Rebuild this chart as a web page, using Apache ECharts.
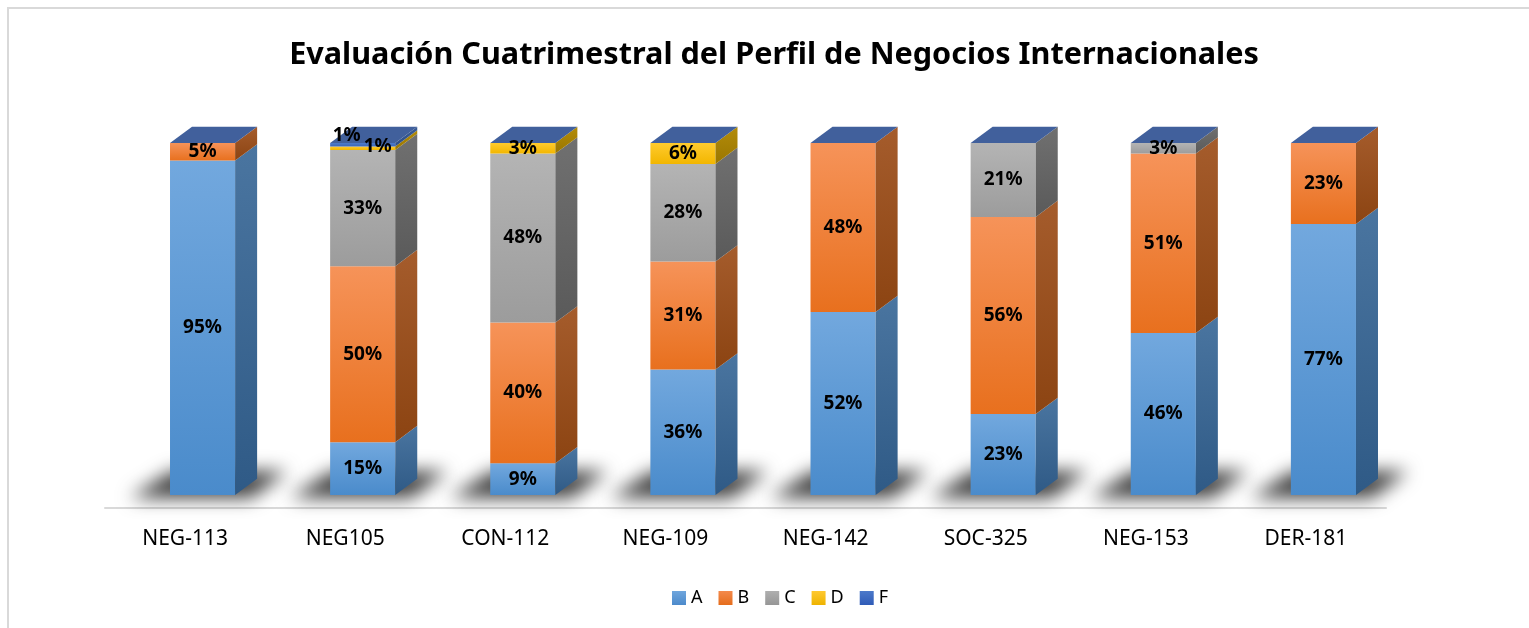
<!DOCTYPE html>
<html>
<head>
<meta charset="utf-8">
<script src="https://cdn.jsdelivr.net/npm/echarts@6/dist/echarts.min.js"></script>
<style>
html,body{margin:0;padding:0;background:#fff;}
#chart{width:1529px;height:628px;}
</style>
</head>
<body>
<div id="chart"></div>
<script>
var categories = ['NEG-113','NEG105','CON-112','NEG-109','NEG-142','SOC-325','NEG-153','DER-181'];
var seriesNames = ['A','B','C','D','F'];
var valuesA = [95,15,9,36,52,23,46,77];
var valuesB = [5,50,40,31,48,56,51,23];
var valuesC = [0,33,48,28,0,21,3,0];
var valuesD = [0,1,3,6,0,0,0,0];
var valuesF = [0,1,0,0,0,0,0,0];
var allValues = [valuesA, valuesB, valuesC, valuesD, valuesF];
var titleText = 'Evaluación Cuatrimestral del Perfil de Negocios Internacionales';

// styles
var FONT = '"Noto Sans", "Open Sans", sans-serif';
var palette = {
  A: {front:['#72A8DE','#4A8BCB'], side:['#4A75A0','#2F5A86'], legend:['#6FA6DD','#4C8ACB']},
  B: {front:['#F69359','#E8701E'], side:['#A55C2C','#8C4412'], legend:['#F48A4C','#E56D1C']},
  C: {front:['#B4B4B4','#9C9C9C'], side:['#707070','#5A5A5A'], legend:['#AFAFAF','#969696']},
  D: {front:['#FFCB2E','#F2B600'], side:['#B38C0A','#9A7600'], legend:['#FFC930','#EEB300']},
  F: {front:['#4E7BC9','#3A66B8'], side:['#3A5C96','#2E4E86'], legend:['#4C79CA','#2F5BB7']}
};
var topColor = '#41609C';
var labelNudge = {'1|4':[-16,-9], '1|3':[15,-2]};

function grad(c){
  return new echarts.graphic.LinearGradient(0,0,0,1,[{offset:0,color:c[0]},{offset:1,color:c[1]}]);
}

// build 100%-stacked segments
var totals = categories.map(function(_, i){
  var t = 0; allValues.forEach(function(arr){ t += arr[i]; }); return t;
});
var segData = seriesNames.map(function(name, s){
  return categories.map(function(_, i){
    var base = 0;
    for (var k = 0; k < s; k++) base += allValues[k][i];
    var v = allValues[s][i];
    return [i, base / totals[i] * 100, (base + v) / totals[i] * 100, v];
  });
});

function geom(api, cat){
  var band = api.size([1, 0])[0];
  var c = api.coord([cat, 0]);
  return {
    xl: c[0] - band * 0.094,
    xr: c[0] + band * 0.3125,
    dx: band * 0.1375,
    dy: band * 0.102,
    yb: c[1]
  };
}

function makeRender(s){
  var name = seriesNames[s];
  var pal = palette[name];
  return function(params, api){
    var cat = api.value(0), v0 = api.value(1), v1 = api.value(2), v = api.value(3);
    var g = geom(api, cat);
    var yb = api.coord([cat, v0])[1];
    var yt = api.coord([cat, v1])[1];
    var children = [];
    if (v > 0) {
      children.push({
        type: 'rect',
        z2: s,
        shape: {x: g.xl, y: yt, width: g.xr - g.xl, height: yb - yt},
        style: {fill: grad(pal.front)}
      });
      children.push({
        type: 'polygon',
        z2: s,
        shape: {points: [[g.xr, yb],[g.xr + g.dx, yb - g.dy],[g.xr + g.dx, yt - g.dy],[g.xr, yt]]},
        style: {fill: grad(pal.side)}
      });
    }
    if (s === seriesNames.length - 1) {
      children.push({
        type: 'polygon',
        z2: s,
        shape: {points: [[g.xl, yt],[g.xr, yt],[g.xr + g.dx, yt - g.dy],[g.xl + g.dx, yt - g.dy]]},
        style: {fill: topColor}
      });
    }
    if (v > 0) {
      var nudge = labelNudge[cat + '|' + s] || [0, 0];
      children.push({
        type: 'text',
        z2: 100,
        style: {
          x: (g.xl + g.xr) / 2 + nudge[0],
          y: (yb + yt) / 2 + nudge[1],
          text: v + '%',
          fill: '#000',
          font: 'bold 19px ' + FONT,
          align: 'center',
          verticalAlign: 'middle'
        }
      });
    }
    return {type: 'group', children: children};
  };
}

var series = [];
// floor shadows
series.push({
  type: 'custom',
  name: 'shadow',
  z: 1,
  silent: true,
  data: categories.map(function(_, i){ return [i, 0]; }),
  renderItem: function(params, api){
    var g = geom(api, api.value(0));
    var off = 3000;
    return {
      type: 'polygon',
      shape: {points: [
        [g.xl - 40 - off, g.yb + 3],
        [g.xr + 16 - off, g.yb + 3],
        [g.xr + 52 - off, g.yb - 24],
        [g.xl + 2 - off, g.yb - 24]
      ]},
      style: {fill: '#000', shadowBlur: 18, shadowColor: 'rgba(0,0,0,0.75)', shadowOffsetX: off, shadowOffsetY: 0}
    };
  }
});
seriesNames.forEach(function(name, s){
  series.push({
    type: 'custom',
    name: name,
    z: 2,
    itemStyle: {color: grad(palette[name].legend)},
    data: segData[s],
    encode: {x: 0, y: [1, 2]},
    renderItem: makeRender(s)
  });
});

var chart = echarts.init(document.getElementById('chart'));
chart.setOption({
  animation: false,
  backgroundColor: '#fff',
  grid: {left: 105, right: 143, top: 143, bottom: 120, containLabel: false},
  xAxis: {
    type: 'category',
    data: categories,
    axisLine: {show: true, onZero: false, lineStyle: {color: '#D9D9D9', width: 2}},
    axisTick: {show: false},
    axisLabel: {color: '#000', fontSize: 21, fontFamily: FONT, margin: 21}
  },
  yAxis: {
    type: 'value', min: -3.693, max: 100,
    show: false, splitLine: {show: false}
  },
  legend: {
    data: seriesNames,
    left: 667,
    top: 584,
    icon: 'rect',
    itemWidth: 14,
    itemHeight: 14,
    itemGap: 16,
    textStyle: {color: '#000', fontSize: 18, fontFamily: FONT}
  },
  graphic: [
    {type: 'rect', z: 0, silent: true, shape: {x: 8, y: 8, width: 1600, height: 700},
     style: {fill: 'none', stroke: '#D9D9D9', lineWidth: 2}},
    {type: 'text', x: 774, y: 55, silent: true,
     style: {text: titleText, font: 'bold 30.6px ' + FONT, fill: '#000', align: 'center', verticalAlign: 'middle'}}
  ],
  series: series
});
</script>
</body>
</html>
